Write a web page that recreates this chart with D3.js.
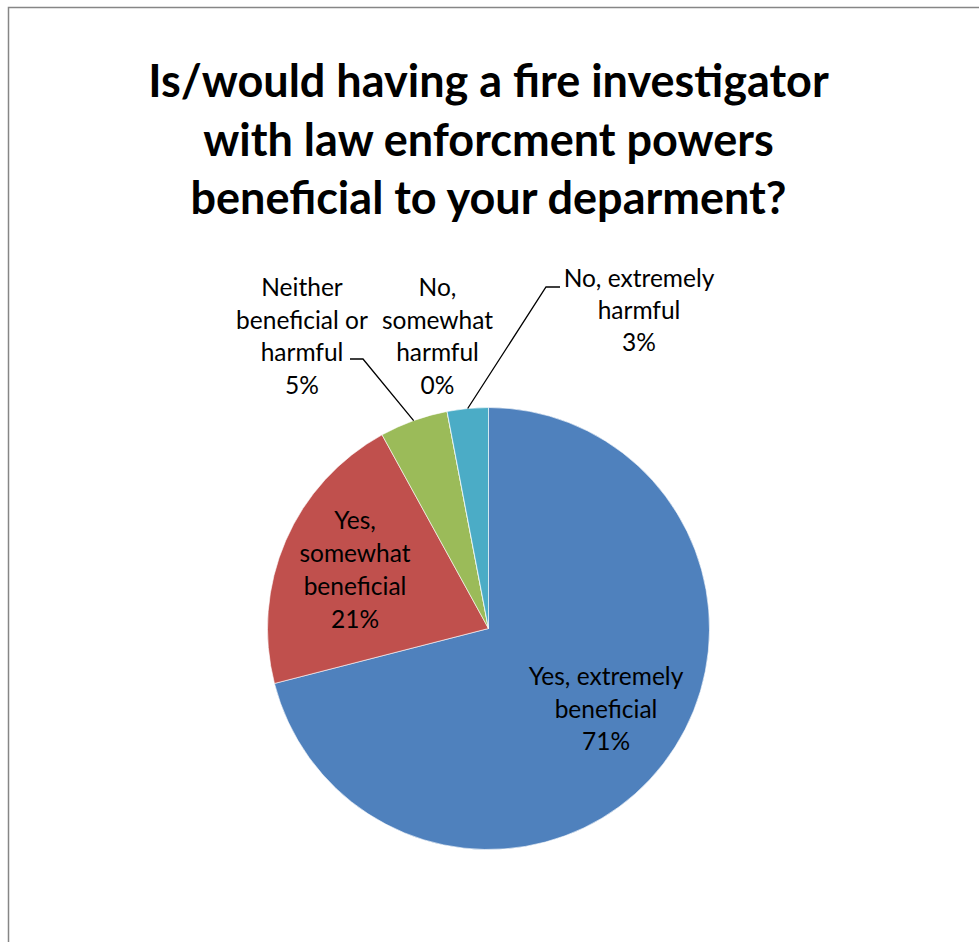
<!DOCTYPE html>
<html>
<head>
<meta charset="utf-8">
<script src="https://cdn.jsdelivr.net/npm/d3@7"></script>
<style>
  html, body { margin: 0; padding: 0; background: #fff; }
  svg { display: block; }
  text { font-family: Lato, "Open Sans", sans-serif; fill: #000; }
</style>
</head>
<body>
<div id="chart"></div>
<script>
// Survey answers, percent of respondents
const categories = [
  "Yes, extremely beneficial",
  "Yes, somewhat beneficial",
  "Neither beneficial or harmful",
  "No, somewhat harmful",
  "No, extremely harmful"
];
const values = [71, 21, 5, 0, 3];
const colors = ["#4F81BD", "#C0504D", "#9BBB59", "#8064A2", "#4BACC6"];
const labelLines = [
  ["Yes, extremely", "beneficial"],
  ["Yes,", "somewhat", "beneficial"],
  ["Neither", "beneficial or", "harmful"],
  ["No,", "somewhat", "harmful"],
  ["No, extremely", "harmful"]
];
const titleLines = [
  "Is/would having a fire investigator",
  "with law enforcment powers",
  "beneficial to your deparment?"
];

const W = 979, H = 942;
const cx = 488.5, cy = 628.5, R = 221;

const svg = d3.select("#chart").append("svg")
  .attr("width", W).attr("height", H);

// chart frame
svg.append("rect")
  .attr("x", 8.5).attr("y", 7.5)
  .attr("width", W + 20).attr("height", H + 20)
  .attr("fill", "none").attr("stroke", "#868686").attr("stroke-width", 1.5);

// title
svg.append("g").selectAll("text").data(titleLines).join("text")
  .attr("x", cx).attr("y", (d, i) => 97 + i * 58.5)
  .attr("text-anchor", "middle")
  .attr("font-weight", "bold").attr("font-size", 45)
  .text(d => d);

const pie = d3.pie().sort(null).value(d => d)(values);
const arc = d3.arc().innerRadius(0).outerRadius(R);

const g = svg.append("g").attr("transform", `translate(${cx},${cy})`);
g.selectAll("path").data(pie).join("path")
  .attr("d", arc)
  .attr("fill", (d, i) => colors[i])
  .attr("stroke", "#fff").attr("stroke-width", 0.6);

// data label anchors (first baseline, relative to pie centre)
const labelPos = [
  [117.5, 56.5, 32.5],
  [-133.5, -99.5, 33],
  [-186.5, -332.5, 32.5],
  [-51, -332.5, 32.5],
  [150.5, -342, 32]
];

pie.forEach((d, i) => {
  const lines = labelLines[i].concat([values[i] + "%"]);
  const t = g.append("text")
    .attr("text-anchor", "middle")
    .attr("font-size", 24.5);
  lines.forEach((s, k) => {
    t.append("tspan")
      .attr("x", labelPos[i][0])
      .attr("y", labelPos[i][1] + k * labelPos[i][2])
      .text(s);
  });
});

// leader lines for the small slices, ending on the slice's outer edge
const leaders = [
  { i: 2, pts: [[-138.5, -269.5], [-125.5, -269.5]] },
  { i: 4, pts: [[71.5, -341.5], [57.5, -341.5]] }
];
leaders.forEach(l => {
  const d = pie[l.i];
  const mid = (d.startAngle + d.endAngle) / 2;
  const end = [Math.sin(mid) * R, -Math.cos(mid) * R];
  g.append("path")
    .attr("d", d3.line()(l.pts.concat([end])))
    .attr("fill", "none").attr("stroke", "#000").attr("stroke-width", 1.3);
});
</script>
</body>
</html>
